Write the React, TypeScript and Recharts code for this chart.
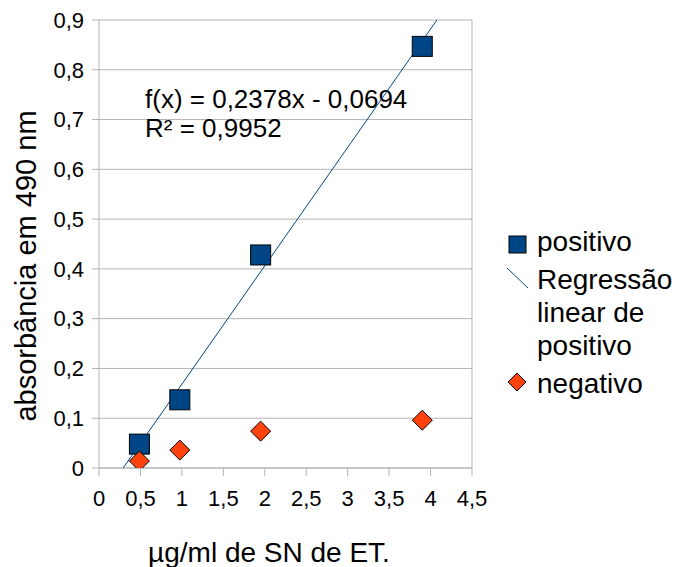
import React from 'react';
import {
  ScatterChart,
  Scatter,
  XAxis,
  YAxis,
  CartesianGrid,
  ReferenceLine,
} from 'recharts';

const concentrations = [0.4875, 0.975, 1.95, 3.9];
const positivoValues = [0.048, 0.137, 0.428, 0.847];
const negativoValues = [0.014, 0.036, 0.074, 0.096];
const xTicks = [0, 0.5, 1, 1.5, 2, 2.5, 3, 3.5, 4, 4.5];
const yTicks = [0, 0.1, 0.2, 0.3, 0.4, 0.5, 0.6, 0.7, 0.8, 0.9];
const slope = 0.2378;
const intercept = -0.0694;
const rSquared = '0,9952';
const legendLines = ['positivo', 'Regressão', 'linear de', 'positivo', 'negativo'];

const BLUE = '#004586';
const ORANGE = '#ff420e';
const GRID = '#b3b3b3';
const FONT = '"Liberation Sans", Arial, sans-serif';

const positivo = concentrations.map((x, i) => ({ x, y: positivoValues[i] }));
const negativo = concentrations.map((x, i) => ({ x, y: negativoValues[i] }));

// trend line clipped to the visible y range
const yMin = yTicks[0];
const yMax = yTicks[yTicks.length - 1];
const regression = [
  { x: (yMin - intercept) / slope, y: yMin },
  { x: (yMax - intercept) / slope, y: yMax },
];

const fmt = (v: number) => String(v).replace('.', ',');

const SquareShape = (props: any) => {
  const { cx, cy } = props;
  const s = 20;
  return <rect x={cx - s / 2} y={cy - s / 2} width={s} height={s} fill={BLUE} stroke="#000" strokeWidth={1} />;
};

const DiamondShape = (props: any) => {
  const { cx, cy } = props;
  const r = 10;
  return (
    <polygon
      points={`${cx},${cy - r} ${cx + r},${cy} ${cx},${cy + r} ${cx - r},${cy}`}
      fill={ORANGE}
      stroke="#000"
      strokeWidth={1}
    />
  );
};

// legend entries are spaced a bit wider between items than between wrapped lines
const lineTops = [0, 38, 71, 104, 142];

const LegendBox = () => {
  const text: React.CSSProperties = { fontSize: 28, lineHeight: '33px', color: '#000', fontFamily: FONT };
  return (
    <div style={{ position: 'absolute', left: 500, top: 225, width: 177, height: 180 }}>
      <svg width={40} height={180} style={{ position: 'absolute', left: 0, top: 0 }}>
        <rect x={9} y={11} width={17} height={17} fill={BLUE} stroke="#000" strokeWidth={1} />
        <line x1={7} y1={43} x2={28} y2={63} stroke={BLUE} strokeWidth={1} />
        <polygon points="17,148 26,157 17,166 8,157" fill={ORANGE} stroke="#000" strokeWidth={1} />
      </svg>
      {legendLines.map((l, i) => (
        <div key={i} style={{ position: 'absolute', left: 37, top: lineTops[i], whiteSpace: 'nowrap', ...text }}>
          {l}
        </div>
      ))}
    </div>
  );
};

export default function App() {
  return (
    <div style={{ position: 'absolute', left: 0, top: 0, width: 677, height: 567, background: '#fff', fontFamily: FONT }}>
      <ScatterChart width={677} height={567} margin={{ top: 20, right: 205, bottom: 0, left: 0 }}>
        <CartesianGrid stroke={GRID} vertical={false} />
        <XAxis
          type="number"
          dataKey="x"
          domain={[0, 4.5]}
          ticks={xTicks}
          tickFormatter={fmt}
          height={99}
          stroke={GRID}
          tickSize={8}
          tickMargin={14}
          tick={{ fill: '#000', fontSize: 22, fontFamily: FONT }}
          allowDataOverflow
        />
        <YAxis
          type="number"
          dataKey="y"
          domain={[0, 0.9]}
          ticks={yTicks}
          tickFormatter={fmt}
          width={99}
          stroke={GRID}
          tickSize={7}
          tickMargin={8}
          tick={{ fill: '#000', fontSize: 22, fontFamily: FONT }}
          allowDataOverflow
        />
        <ReferenceLine x={4.5} stroke={GRID} />
        <Scatter
          name="Regressão linear de positivo"
          data={regression}
          line={{ stroke: BLUE, strokeWidth: 1 }}
          shape={() => <g />}
          isAnimationActive={false}
        />
        <Scatter name="positivo" data={positivo} shape={SquareShape} isAnimationActive={false} />
        <Scatter name="negativo" data={negativo} shape={DiamondShape} isAnimationActive={false} />
        <text x={145} y={108} fontSize={26} fontFamily={FONT} fill="#000">
          f(x) = 0,2378x - 0,0694
        </text>
        <text x={145} y={137} fontSize={26} fontFamily={FONT} fill="#000">
          R² = {rSquared}
        </text>
        <text x={269} y={562} fontSize={28} fontFamily={FONT} fill="#000" textAnchor="middle">
          µg/ml de SN de ET.
        </text>
        <text
          x={36}
          y={266}
          fontSize={29}
          fontFamily={FONT}
          fill="#000"
          textAnchor="middle"
          transform="rotate(-90 36 266)"
        >
          absorbância em 490 nm
        </text>
      </ScatterChart>
      <LegendBox />
    </div>
  );
}
